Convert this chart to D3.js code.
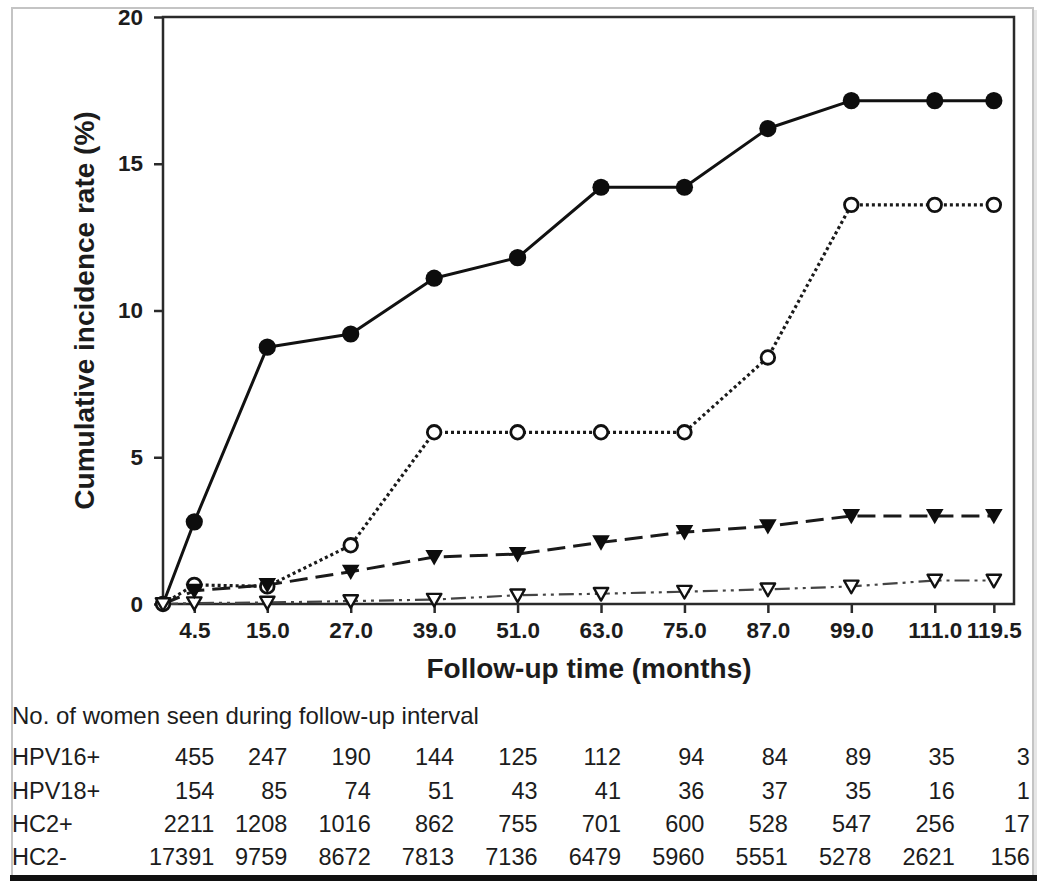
<!DOCTYPE html>
<html>
<head>
<meta charset="utf-8">
<script src="https://cdn.jsdelivr.net/npm/d3@7"></script>
<style>
  html, body { margin: 0; padding: 0; background: #ffffff; }
  svg { display: block; }
  text { font-family: "Liberation Sans", Arial, Helvetica, sans-serif; fill: #1c1c1c; }
</style>
</head>
<body>
<script>
// ---------- data ----------
const months = [0, 4.5, 15, 27, 39, 51, 63, 75, 87, 99, 111, 119.5];
const tickMonths = [4.5, 15, 27, 39, 51, 63, 75, 87, 99, 111, 119.5];
const tickLabels = ["4.5", "15.0", "27.0", "39.0", "51.0", "63.0", "75.0", "87.0", "99.0", "111.0", "119.5"];
const yTicks = [0, 5, 10, 15, 20];

const hpv16 = [0, 2.8, 8.75, 9.2, 11.1, 11.8, 14.2, 14.2, 16.2, 17.15, 17.15, 17.15];
const hpv18 = [0, 0.65, 0.6, 2.0, 5.85, 5.85, 5.85, 5.85, 8.4, 13.6, 13.6, 13.6];
const hc2pos = [0, 0.45, 0.65, 1.1, 1.6, 1.7, 2.1, 2.45, 2.65, 3.0, 3.0, 3.0];
const hc2neg = [0, 0.03, 0.05, 0.1, 0.15, 0.3, 0.35, 0.42, 0.5, 0.6, 0.8, 0.8];

const tableTitle = "No. of women seen during follow-up interval";
const rowNames = ["HPV16+", "HPV18+", "HC2+", "HC2-"];
const nHPV16 = ["455", "247", "190", "144", "125", "112", "94", "84", "89", "35", "3"];
const nHPV18 = ["154", "85", "74", "51", "43", "41", "36", "37", "35", "16", "1"];
const nHC2pos = ["2211", "1208", "1016", "862", "755", "701", "600", "528", "547", "256", "17"];
const nHC2neg = ["17391", "9759", "8672", "7813", "7136", "6479", "5960", "5551", "5278", "2621", "156"];

// ---------- layout ----------
const W = 1037, H = 881;
const plot = { left: 163, right: 1014, top: 17, bottom: 604 };

const svg = d3.select("body").append("svg").attr("width", W).attr("height", H);

// screenshot-like outer frame
svg.append("rect").attr("x", 12).attr("y", 8).attr("width", 1021).attr("height", 868)
  .attr("fill", "none").attr("stroke", "#c4c4c4").attr("stroke-width", 2);
svg.append("rect").attr("x", 1034).attr("y", 10).attr("width", 3).attr("height", 866)
  .attr("fill", "#e6e6e6");
svg.append("rect").attr("x", 10).attr("y", 875).attr("width", W - 10).attr("height", 6)
  .attr("fill", "#111");

const x = d3.scaleLinear().domain([0, 122.4]).range([plot.left, plot.right]);
const y = d3.scaleLinear().domain([0, 20]).range([plot.bottom, plot.top]);

// plot frame
svg.append("rect")
  .attr("x", plot.left).attr("y", plot.top)
  .attr("width", plot.right - plot.left).attr("height", plot.bottom - plot.top)
  .attr("fill", "none").attr("stroke", "#2a2a2a").attr("stroke-width", 2.5);

// y axis
const yAxis = svg.append("g").attr("transform", `translate(${plot.left},0)`)
  .call(d3.axisLeft(y).tickValues(yTicks).tickSize(9).tickPadding(11).tickFormat(d3.format("d")));
yAxis.select(".domain").remove();
yAxis.selectAll(".tick line").attr("stroke", "#2a2a2a").attr("stroke-width", 2.5);
yAxis.selectAll(".tick text").attr("font-size", 22.5).attr("font-weight", "bold")
  .attr("font-family", "Liberation Sans, Arial, sans-serif").attr("fill", "#1c1c1c");

// x axis
const xAxis = svg.append("g").attr("transform", `translate(0,${plot.bottom})`)
  .call(d3.axisBottom(x).tickValues(tickMonths).tickSize(9).tickPadding(9)
    .tickFormat((d, i) => tickLabels[i]));
xAxis.select(".domain").remove();
xAxis.selectAll(".tick line").attr("stroke", "#2a2a2a").attr("stroke-width", 2.5);
xAxis.selectAll(".tick text").attr("font-size", 22.5).attr("font-weight", "bold")
  .attr("font-family", "Liberation Sans, Arial, sans-serif").attr("fill", "#1c1c1c");

// axis titles
svg.append("text")
  .attr("transform", `translate(87,${(plot.top + plot.bottom) / 2}) rotate(-90)`)
  .attr("text-anchor", "middle").attr("dominant-baseline", "middle")
  .attr("font-size", 28).attr("font-weight", "bold")
  .text("Cumulative incidence rate (%)");

svg.append("text")
  .attr("x", 589).attr("y", 671)
  .attr("text-anchor", "middle").attr("dominant-baseline", "middle")
  .attr("font-size", 28).attr("font-weight", "bold")
  .text("Follow-up time (months)");

// ---------- series ----------
const series = [
  { name: "HC2-", values: hc2neg, dash: "15,5,3,5,3,5", width: 2.2, color: "#444", marker: "triOpen" },
  { name: "HC2+", values: hc2pos, dash: "18,8", width: 3, color: "#1a1a1a", marker: "triFilled" },
  { name: "HPV18+", values: hpv18, dash: "3,3", width: 3.2, color: "#1a1a1a", marker: "circleOpen" },
  { name: "HPV16+", values: hpv16, dash: null, width: 3, color: "#111", marker: "circleFilled" }
];

const line = d3.line().x(d => x(d.t)).y(d => y(d.v));

const triPath = (s) => `M${-s},${-s * 0.8}L${s},${-s * 0.8}L0,${s * 0.95}Z`;

series.forEach(s => {
  const pts = months.map((t, i) => ({ t, v: s.values[i] }));
  svg.append("path").datum(pts)
    .attr("d", line).attr("fill", "none")
    .attr("stroke", s.color).attr("stroke-width", s.width)
    .attr("stroke-dasharray", s.dash)
    .attr("stroke-linejoin", "round");
});

const markerOrder = ["circleOpen", "triOpen", "triFilled", "circleFilled"];
markerOrder.forEach(mk => {
  const s = series.find(d => d.marker === mk);
  const pts = months.map((t, i) => ({ t, v: s.values[i] }))
    .filter(p => (mk === "triOpen" || mk === "circleOpen") ? true : p.t > 0);
  const g = svg.append("g");
  if (mk === "circleFilled") {
    g.selectAll("circle").data(pts).join("circle")
      .attr("cx", d => x(d.t)).attr("cy", d => y(d.v)).attr("r", 8.6)
      .attr("fill", "#0d0d0d");
  } else if (mk === "circleOpen") {
    g.selectAll("circle").data(pts).join("circle")
      .attr("cx", d => x(d.t)).attr("cy", d => y(d.v)).attr("r", 6.8)
      .attr("fill", "#fff").attr("stroke", "#111").attr("stroke-width", 2.8);
  } else if (mk === "triFilled") {
    g.selectAll("path").data(pts).join("path")
      .attr("transform", d => `translate(${x(d.t)},${y(d.v)})`)
      .attr("d", triPath(8.8)).attr("fill", "#0d0d0d");
  } else {
    g.selectAll("path").data(pts).join("path")
      .attr("transform", d => `translate(${x(d.t)},${y(d.v)})`)
      .attr("d", triPath(7.2)).attr("fill", "#fff")
      .attr("stroke", "#111").attr("stroke-width", 2.4).attr("stroke-linejoin", "round");
  }
});

// ---------- table ----------
svg.append("text").attr("x", 12).attr("y", 718)
  .attr("dominant-baseline", "middle").attr("font-size", 24)
  .text(tableTitle);

const rows = [nHPV16, nHPV18, nHC2pos, nHC2neg];
const rowY = d3.scaleLinear().domain([0, 3]).range([759, 859]);
const lastT = tickMonths[tickMonths.length - 1];
const colX = t => x(t) + 20 + (t === lastT ? 16 : 0);

rows.forEach((vals, r) => {
  svg.append("text").attr("x", 12).attr("y", rowY(r))
    .attr("dominant-baseline", "middle").attr("font-size", 23.5)
    .text(rowNames[r]);
  svg.append("g").selectAll("text").data(vals).join("text")
    .attr("x", (d, i) => colX(tickMonths[i]))
    .attr("y", rowY(r))
    .attr("text-anchor", "end").attr("dominant-baseline", "middle")
    .attr("font-size", 23.5)
    .text(d => d);
});
</script>
</body>
</html>
